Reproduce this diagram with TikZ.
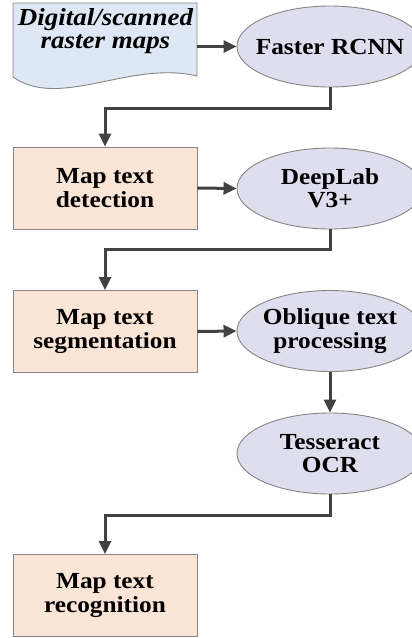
\documentclass[tikz,border=0pt]{standalone}
\usepackage{fontspec}
\setmainfont{Liberation Serif}[FakeStretch=1.1]
\usetikzlibrary{shapes.geometric,arrows.meta}
\definecolor{docfill}{HTML}{DDE8F4}
\definecolor{boxfill}{HTML}{FBE5D6}
\definecolor{ellfill}{HTML}{DEDEEE}
\definecolor{edge}{HTML}{858585}
\definecolor{arrowc}{HTML}{424242}
\tikzset{
  txt/.style={font=\fontsize{23}{23.3}\selectfont\bfseries, align=center, inner sep=0pt, text=black},
  procbox/.style={txt, draw=edge, fill=boxfill, line width=0.9pt, minimum width=184pt, minimum height=82pt},
  tool/.style={txt, ellipse, draw=edge, fill=ellfill, line width=0.9pt, inner xsep=-20pt, inner ysep=-8pt, minimum width=186pt, minimum height=81pt},
  conn/.style={draw=arrowc, line width=3pt, -{Triangle[length=13pt,width=12pt]}},
}
\begin{document}
\begin{tikzpicture}[x=1pt,y=-1pt]
\useasboundingbox (0,0) rectangle (412,638);
\clip (0,0) rectangle (412,638);
% document shape
\draw[draw=edge, fill=docfill, line width=0.9pt]
  (13,3) -- (197,3) -- (197,76)
  .. controls (130,60) and (60,110) .. (13,77) -- cycle;
\node[txt, font=\fontsize{24.5}{23.3}\selectfont\bfseries\itshape] (doc) at (105.5,31) {Digital/scanned\\raster maps};
\coordinate (docR) at (197,46.5);
% tools
\node[tool] (faster) at (330,46.5) {Faster RCNN};
\node[tool] (deeplab) at (330,188.5) {DeepLab\\V3+};
\node[tool] (obl) at (330,331) {Oblique text\\processing};
\node[tool] (tess) at (330,453.5) {Tesseract\\OCR};
% process boxes
\node[procbox] (det) at (105,188) {Map text\\detection};
\node[procbox] (seg) at (105,331.5) {Map text\\segmentation};
\node[procbox] (rec) at (105,595.5) {Map text\\recognition};
% connectors
\draw[conn] (docR) -- (faster.west);
\draw[conn] (faster.south) -- ++(0,21.5) -| (det.north);
\draw[conn] (det.east) -- (deeplab.west);
\draw[conn] (deeplab.south) -- ++(0,20.5) -| (seg.north);
\draw[conn] (seg.east) -- (obl.west);
\draw[conn] (obl.south) -- (tess.north);
\draw[conn] (tess.south) -- ++(0,21.5) -| (rec.north);
\end{tikzpicture}
\end{document}
